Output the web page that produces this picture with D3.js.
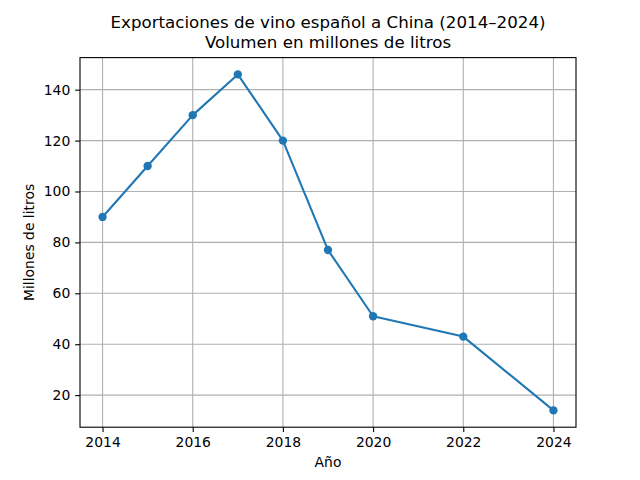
<!DOCTYPE html>
<html>
<head>
<meta charset="utf-8">
<script src="https://cdn.jsdelivr.net/npm/d3@7"></script>
<style>
  body { margin: 0; background: #fff; }
  svg { display: block; font-family: "DejaVu Sans", sans-serif; }
</style>
</head>
<body>
<script>
// data
const years = [2014, 2015, 2016, 2017, 2018, 2019, 2020, 2022, 2024];
const volumes = [90, 110, 130, 146, 120, 77, 51, 43, 14];
const xTicks = [2014, 2016, 2018, 2020, 2022, 2024];
const yTicks = [20, 40, 60, 80, 100, 120, 140];
const titleLines = ["Exportaciones de vino español a China (2014–2024)", "Volumen en millones de litros"];

const width = 640;
const height = 480;
const margin = { top: 57.6, right: 64, bottom: 52.8, left: 80 };

const data = years.map((y, i) => ({ year: y, value: volumes[i] }));

const svg = d3.select("body")
    .append("svg")
    .attr("width", width)
    .attr("height", height);

// matplotlib style 5% margins
const xExt = d3.extent(years);
const xPad = (xExt[1] - xExt[0]) * 0.05;
const yExt = d3.extent(volumes);
const yPad = (yExt[1] - yExt[0]) * 0.05;

const x = d3.scaleLinear()
    .domain([xExt[0] - xPad, xExt[1] + xPad])
    .range([margin.left, width - margin.right]);

const y = d3.scaleLinear()
    .domain([yExt[0] - yPad, yExt[1] + yPad])
    .range([height - margin.bottom, margin.top]);

// grid
svg.append("g")
    .selectAll("line")
    .data(xTicks)
    .enter()
    .append("line")
    .attr("x1", d => x(d)).attr("x2", d => x(d))
    .attr("y1", margin.top).attr("y2", height - margin.bottom)
    .attr("stroke", "#b0b0b0")
    .attr("stroke-width", 1.1);

svg.append("g")
    .selectAll("line")
    .data(yTicks)
    .enter()
    .append("line")
    .attr("x1", margin.left).attr("x2", width - margin.right)
    .attr("y1", d => y(d)).attr("y2", d => y(d))
    .attr("stroke", "#b0b0b0")
    .attr("stroke-width", 1.1);

// line + markers
const line = d3.line()
    .x(d => x(d.year))
    .y(d => y(d.value));

svg.append("path")
    .datum(data)
    .attr("fill", "none")
    .attr("stroke", "#1f77b4")
    .attr("stroke-width", 2.08)
    .attr("stroke-linejoin", "round")
    .attr("d", line);

svg.selectAll("circle")
    .data(data)
    .enter()
    .append("circle")
    .attr("cx", d => x(d.year))
    .attr("cy", d => y(d.value))
    .attr("r", 4.17)
    .attr("fill", "#1f77b4");

// frame
svg.append("rect")
    .attr("x", margin.left)
    .attr("y", margin.top)
    .attr("width", width - margin.left - margin.right)
    .attr("height", height - margin.top - margin.bottom)
    .attr("fill", "none")
    .attr("stroke", "#000")
    .attr("stroke-width", 1.1);

// axes
const xAxis = svg.append("g")
    .attr("transform", `translate(0,${height - margin.bottom})`)
    .call(d3.axisBottom(x).tickValues(xTicks).tickFormat(d3.format("d")).tickSize(4.86).tickPadding(4.86));

const yAxis = svg.append("g")
    .attr("transform", `translate(${margin.left},0)`)
    .call(d3.axisLeft(y).tickValues(yTicks).tickSize(4.86).tickPadding(4.86));

[xAxis, yAxis].forEach(g => {
    g.select(".domain").remove();
    g.selectAll(".tick line").attr("stroke", "#000").attr("stroke-width", 1.1);
    g.selectAll(".tick text")
        .attr("fill", "#000")
        .style("font-family", "DejaVu Sans")
        .style("font-size", "13.9px");
});

// labels
svg.append("text")
    .attr("x", (margin.left + width - margin.right) / 2)
    .attr("y", 467)
    .attr("text-anchor", "middle")
    .style("font-size", "13.9px")
    .text("Año");

svg.append("text")
    .attr("transform", `translate(34,${(margin.top + height - margin.bottom) / 2}) rotate(-90)`)
    .attr("text-anchor", "middle")
    .style("font-size", "13.9px")
    .text("Millones de litros");

svg.append("g")
    .selectAll("text")
    .data(titleLines)
    .enter()
    .append("text")
    .attr("x", (margin.left + width - margin.right) / 2)
    .attr("y", (d, i) => 28 + i * 20)
    .attr("text-anchor", "middle")
    .style("font-size", "16.67px")
    .text(d => d);
</script>
</body>
</html>
